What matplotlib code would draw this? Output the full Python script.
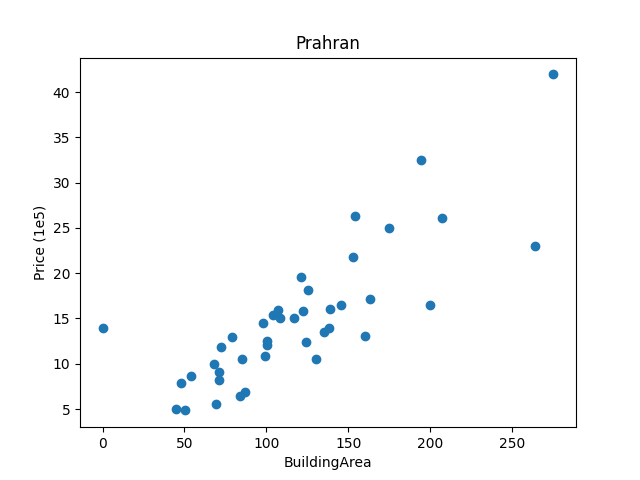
import matplotlib
matplotlib.use("Agg")
import matplotlib.pyplot as plt

building_area = [
    0, 44.6, 50.3, 47.9, 54, 68, 71.1, 71.1, 72.3, 69.3,
    79, 85.2, 83.9, 86.8, 98, 99.4, 100.4, 100.4, 103.9, 107.2,
    108.4, 116.9, 121.2, 122.4, 125.5, 124.3, 130.4, 135.3, 138.3, 138.9,
    145.3, 153, 275.3, 194.6, 154.2, 207.4, 175, 264.3, 163.4, 200.1,
    160.3,
]
price = [
    13.9, 5.0, 4.85, 7.84, 8.64, 9.97, 9.09, 8.2, 11.8, 5.55,
    13.0, 10.5, 6.4, 6.84, 14.5, 10.9, 12.5, 12.1, 15.35, 15.9,
    15.0, 15.0, 19.6, 15.8, 18.1, 12.45, 10.5, 13.5, 14.0, 16.1,
    16.5, 21.75, 41.95, 32.46, 26.28, 26.06, 24.95, 22.96, 17.1, 16.45,
    13.1,
]

fig, ax = plt.subplots(figsize=(6.4, 4.8), dpi=100)
ax.scatter(building_area, price)
ax.set_title("Prahran")
ax.set_xlabel("BuildingArea")
ax.set_ylabel("Price (1e5)")
fig.savefig("out.png")
